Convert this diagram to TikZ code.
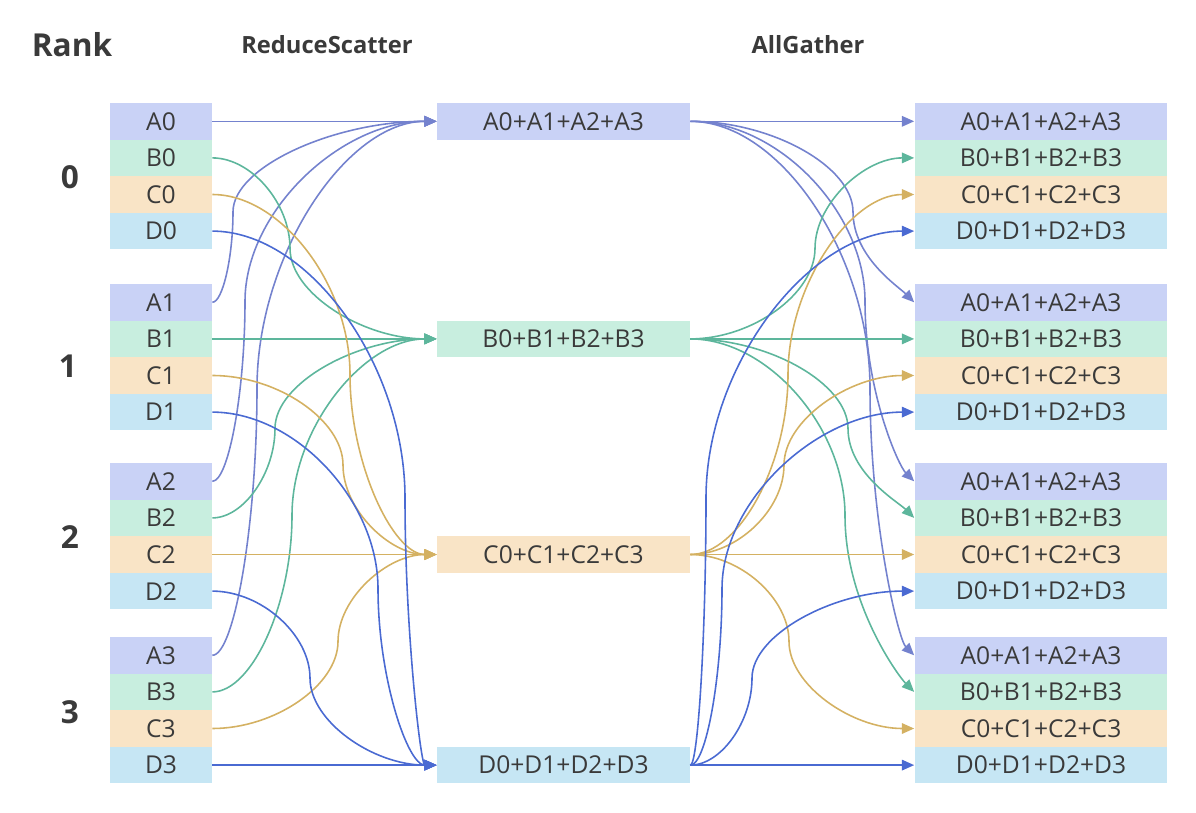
\documentclass[tikz,border=0pt]{standalone}
\usepackage{fontspec}
\setmainfont{Open Sans}
\usetikzlibrary{arrows.meta, calc}
\definecolor{ink}{HTML}{3A3A3A}
\definecolor{fillA}{HTML}{C9D2F6}
\definecolor{fillB}{HTML}{C8EEDF}
\definecolor{fillC}{HTML}{F9E4C6}
\definecolor{fillD}{HTML}{C6E6F4}
\definecolor{lineA}{HTML}{7482CE}
\definecolor{lineB}{HTML}{5DB69C}
\definecolor{lineC}{HTML}{D4B162}
\definecolor{lineD}{HTML}{4A6AD2}
\newcommand{\curvelink}[4]{%
    \draw[#1] let \p1=(#2), \p2=(#4), \p3=(#3,0), \p4=($(\p1)!.5!(\p2)$) in
        (\p1) .. controls ({(\x1+\x3)/2},\y1) and (\x3,{(\y1+\y4)/2}) .. (\x3,\y4)
        .. controls (\x3,{(\y4+\y2)/2}) and ({(\x3+\x2)/2},\y2) .. (\p2);}
\newcommand{\droplink}[4]{%
    \draw[#1] let \p1=(#2), \p2=(#4), \p3=(#3,0), \p4=($(\p1)!.5!(\p2)$) in
        (\p1) .. controls ({(\x1+\x3)/2},\y1) and (\x3,{(\y1+\y4)/2}) .. (\x3,\y4)
        .. controls (\x3,{(\y4+\y2)/2}) and ({\x2-9pt},{\y2+9pt}) .. (\p2);}
\begin{document}
\begin{tikzpicture}[
    x=0.02cm, y=-0.02cm,
    cell/.style={rectangle, minimum width=2.04cm, minimum height=0.735cm,
        inner sep=0pt, text=ink, font=\fontsize{14}{16}\selectfont},
    total/.style={cell, minimum width=5.06cm},
    partA/.style={fill=fillA},
    partB/.style={fill=fillB},
    partC/.style={fill=fillC},
    partD/.style={fill=fillD},
    title/.style={text=ink, font=\bfseries\fontsize{13.5}{16}\selectfont},
    rank/.style={text=ink, font=\bfseries\fontsize{18}{20}\selectfont},
    flow/.style={line width=0.9pt, -{Triangle[length=7pt,width=6pt]}},
    flowA/.style={flow, draw=lineA},
    flowB/.style={flow, draw=lineB},
    flowC/.style={flow, draw=lineC},
    flowD/.style={flow, draw=lineD}
]
    \useasboundingbox (0,0) rectangle (1196,812);
    \node[rank] (rank) at (72,45) {Rank};
    \node[title] (rs) at (327,45) {ReduceScatter};
    \node[title] (ag) at (808,45) {AllGather};
    \node[rank] (r0) at (70,177) {0};
    \node[rank] (r1) at (68,366) {1};
    \node[rank] (r2) at (70,537) {2};
    \node[rank] (r3) at (70,712) {3};
    \node[cell, partA] (A0) at (161,121.3) {A0};
    \node[cell, partB] (B0) at (161,157.9) {B0};
    \node[cell, partC] (C0) at (161,194.5) {C0};
    \node[cell, partD] (D0) at (161,231.1) {D0};
    \node[cell, partA] (A1) at (161,302.3) {A1};
    \node[cell, partB] (B1) at (161,338.9) {B1};
    \node[cell, partC] (C1) at (161,375.5) {C1};
    \node[cell, partD] (D1) at (161,412.1) {D1};
    \node[cell, partA] (A2) at (161,481.3) {A2};
    \node[cell, partB] (B2) at (161,517.9) {B2};
    \node[cell, partC] (C2) at (161,554.5) {C2};
    \node[cell, partD] (D2) at (161,591.1) {D2};
    \node[cell, partA] (A3) at (161,655.3) {A3};
    \node[cell, partB] (B3) at (161,691.9) {B3};
    \node[cell, partC] (C3) at (161,728.5) {C3};
    \node[cell, partD] (D3) at (161,765.1) {D3};
    \node[total, partA] (sumA) at (563.5,121.3) {A0+A1+A2+A3};
    \node[total, partB] (sumB) at (563.5,338.9) {B0+B1+B2+B3};
    \node[total, partC] (sumC) at (563.5,554.5) {C0+C1+C2+C3};
    \node[total, partD] (sumD) at (563.5,765.1) {D0+D1+D2+D3};
    \node[total, partA] (outA0) at (1041,121.3) {A0+A1+A2+A3};
    \node[total, partB] (outB0) at (1041,157.9) {B0+B1+B2+B3};
    \node[total, partC] (outC0) at (1041,194.5) {C0+C1+C2+C3};
    \node[total, partD] (outD0) at (1041,231.1) {D0+D1+D2+D3};
    \node[total, partA] (outA1) at (1041,302.3) {A0+A1+A2+A3};
    \node[total, partB] (outB1) at (1041,338.9) {B0+B1+B2+B3};
    \node[total, partC] (outC1) at (1041,375.5) {C0+C1+C2+C3};
    \node[total, partD] (outD1) at (1041,412.1) {D0+D1+D2+D3};
    \node[total, partA] (outA2) at (1041,481.3) {A0+A1+A2+A3};
    \node[total, partB] (outB2) at (1041,517.9) {B0+B1+B2+B3};
    \node[total, partC] (outC2) at (1041,554.5) {C0+C1+C2+C3};
    \node[total, partD] (outD2) at (1041,591.1) {D0+D1+D2+D3};
    \node[total, partA] (outA3) at (1041,655.3) {A0+A1+A2+A3};
    \node[total, partB] (outB3) at (1041,691.9) {B0+B1+B2+B3};
    \node[total, partC] (outC3) at (1041,728.5) {C0+C1+C2+C3};
    \node[total, partD] (outD3) at (1041,765.1) {D0+D1+D2+D3};
    \draw[flowA] (A0.east) -- (sumA.west);
    \curvelink{flowA}{A1.east}{233}{sumA.west}
    \curvelink{flowA}{A2.east}{245}{sumA.west}
    \curvelink{flowA}{A3.east}{257}{sumA.west}
    \curvelink{flowB}{B0.east}{290}{sumB.west}
    \draw[flowB] (B1.east) -- (sumB.west);
    \curvelink{flowB}{B2.east}{275}{sumB.west}
    \curvelink{flowB}{B3.east}{292}{sumB.west}
    \curvelink{flowC}{C0.east}{350}{sumC.west}
    \curvelink{flowC}{C1.east}{343}{sumC.west}
    \draw[flowC] (C2.east) -- (sumC.west);
    \curvelink{flowC}{C3.east}{338}{sumC.west}
    \curvelink{flowD}{D0.east}{405}{sumD.west}
    \curvelink{flowD}{D1.east}{378}{sumD.west}
    \curvelink{flowD}{D2.east}{310}{sumD.west}
    \draw[flowD] (D3.east) -- (sumD.west);
    \draw[flowA] (sumA.east) -- (outA0.west);
    \droplink{flowA}{sumA.east}{853}{outA1.west}
    \droplink{flowA}{sumA.east}{865}{outA2.west}
    \droplink{flowA}{sumA.east}{870}{outA3.west}
    \curvelink{flowB}{sumB.east}{815}{outB0.west}
    \draw[flowB] (sumB.east) -- (outB1.west);
    \droplink{flowB}{sumB.east}{848}{outB2.west}
    \droplink{flowB}{sumB.east}{845}{outB3.west}
    \curvelink{flowC}{sumC.east}{788}{outC0.west}
    \curvelink{flowC}{sumC.east}{784}{outC1.west}
    \draw[flowC] (sumC.east) -- (outC2.west);
    \curvelink{flowC}{sumC.east}{789}{outC3.west}
    \curvelink{flowD}{sumD.east}{706}{outD0.west}
    \curvelink{flowD}{sumD.east}{722}{outD1.west}
    \curvelink{flowD}{sumD.east}{752}{outD2.west}
    \draw[flowD] (sumD.east) -- (outD3.west);
\end{tikzpicture}
\end{document}
